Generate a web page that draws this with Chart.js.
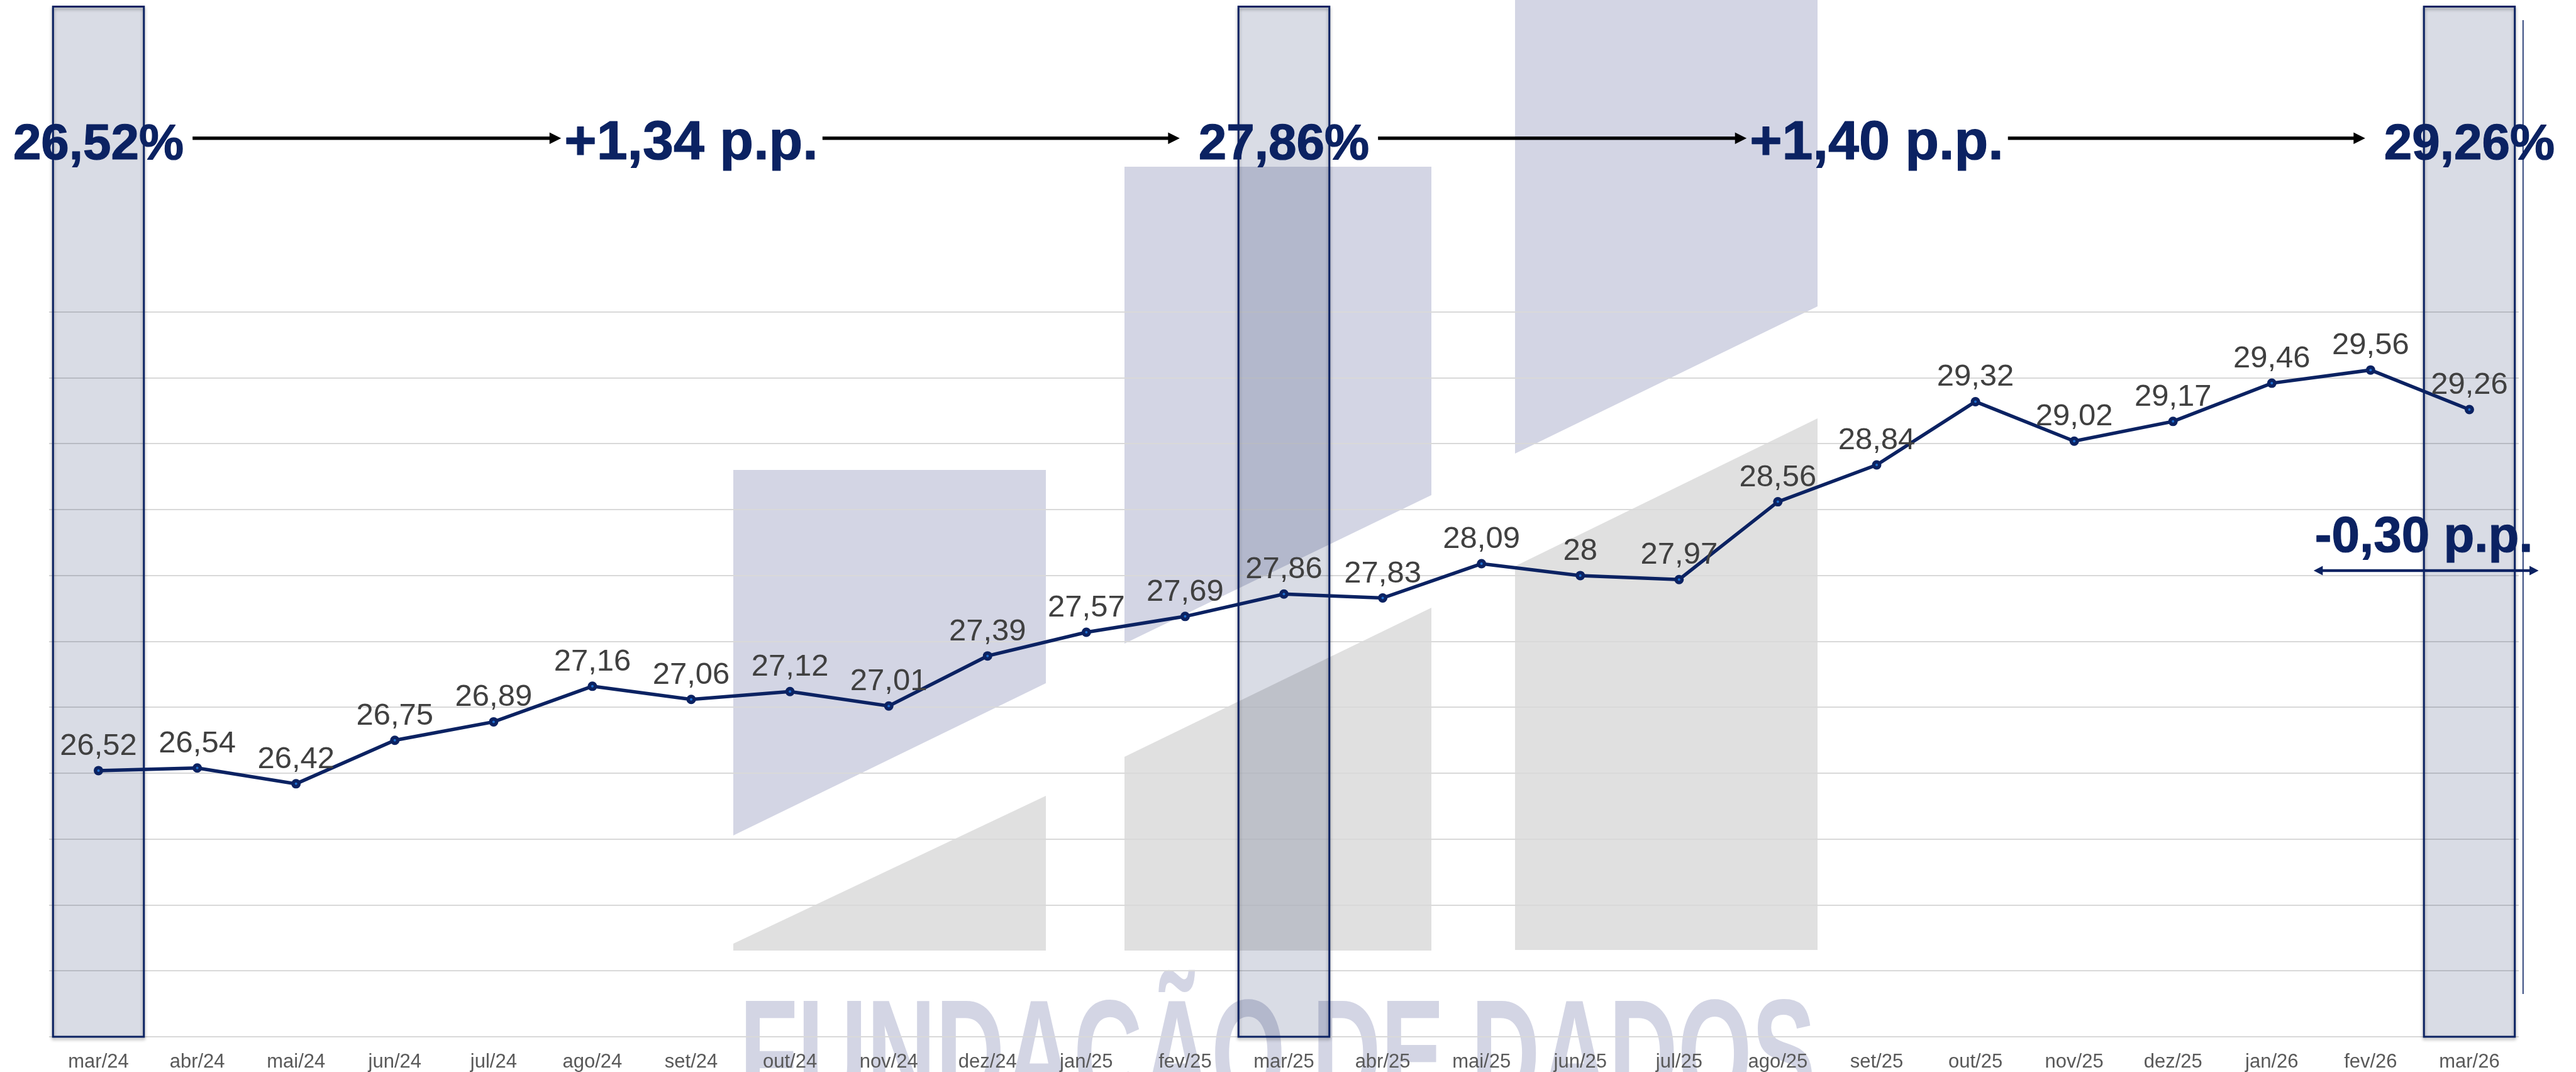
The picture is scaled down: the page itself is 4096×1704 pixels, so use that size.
<!DOCTYPE html>
<html lang="pt-BR">
<head>
<meta charset="utf-8">
<title>Evolução mensal</title>
<script src="https://cdn.jsdelivr.net/npm/chart.js@4/dist/chart.umd.min.js"></script>
<style>
html, body { margin: 0; padding: 0; background: #fff; }
#wrap { width: 4096px; height: 1704px; }
</style>
</head>
<body>
<div id="wrap"><canvas id="chart" width="4096" height="1704"></canvas></div>
<script>
const months = ['mar/24', 'abr/24', 'mai/24', 'jun/24', 'jul/24', 'ago/24', 'set/24', 'out/24', 'nov/24', 'dez/24',
    'jan/25', 'fev/25', 'mar/25', 'abr/25', 'mai/25', 'jun/25', 'jul/25', 'ago/25', 'set/25', 'out/25',
    'nov/25', 'dez/25', 'jan/26', 'fev/26', 'mar/26']
const values = [26.52, 26.54, 26.42, 26.75, 26.89, 27.16, 27.06, 27.12, 27.01, 27.39,
    27.57, 27.69, 27.86, 27.83, 28.09, 28, 27.97, 28.56, 28.84, 29.32,
    29.02, 29.17, 29.46, 29.56, 29.26]

// y axis: 24,5 to 30 in steps of 0,5 (gridlines only)
const yMin = 24.5
const yMax = 30
const yStep = 0.5

// highlighted months and the header above the chart
const boxIdx = [0, 12, 24]
const headerIdx = [0, 6, 12, 18, 24]
const headerLabels = ['26,52%', '+1,34 p.p.', '27,86%', '+1,40 p.p.', '29,26%']
const lastChangeLabel = '-0,30 p.p.'

const navy = '#0b2262'
const font = '"Liberation Sans", Arial, sans-serif'
const wmText = 'FUNDAÇÃO DE DADOS'

// background logo shapes (canvas px)
const wmLavender = [
    [[1166, 747], [1663, 747], [1663, 1086], [1166, 1328]],
    [[1788, 265], [2276, 265], [2276, 787], [1788, 1023]],
    [[2409, 0], [2890, 0], [2890, 487], [2409, 721]]
]
const wmGray = [
    [[1166, 1500], [1663, 1265], [1663, 1511], [1166, 1511]],
    [[1788, 1203], [2276, 966], [2276, 1511], [1788, 1511]],
    [[2409, 900], [2890, 665], [2890, 1510], [2409, 1510]]
]

function fmt(v) {
    return String(v).replace('.', ',')
}

function poly(ctx, pts) {
    ctx.beginPath()
    pts.forEach((p, i) => i ? ctx.lineTo(p[0], p[1]) : ctx.moveTo(p[0], p[1]))
    ctx.closePath()
    ctx.fill()
}

function arrowHead(ctx, x, y, dir, len, half) {
    ctx.beginPath()
    ctx.moveTo(x, y)
    ctx.lineTo(x - dir * len, y - half)
    ctx.lineTo(x - dir * len, y + half)
    ctx.closePath()
    ctx.fill()
}

function arrow(ctx, x1, x2, y, color, width, len, half, both) {
    ctx.save()
    ctx.fillStyle = color
    ctx.fillRect(both ? x1 + len * 0.5 : x1, y - width / 2, (x2 - x1) - (both ? len : len * 0.5), width)
    arrowHead(ctx, x2, y, 1, len, half)
    if (both) arrowHead(ctx, x1, y, -1, len, half)
    ctx.restore()
}

function boldText(ctx, txt, x, y) {
    ctx.fillText(txt, x, y)
    ctx.strokeText(txt, x, y)
}

const decor = {
    id: 'decor',
    beforeDraw(chart) {
        const ctx = chart.ctx
        ctx.save()
        ctx.fillStyle = '#fff'
        ctx.fillRect(0, 0, chart.width, chart.height)
        ctx.fillStyle = '#d3d5e4'
        wmLavender.forEach(p => poly(ctx, p))
        ctx.fillStyle = '#e0e0e0'
        wmGray.forEach(p => poly(ctx, p))

        ctx.font = `bold 245px ${font}`
        const w = ctx.measureText(wmText).width
        ctx.translate(1176, 1760)
        ctx.scale(1711 / w, 1)
        ctx.fillStyle = '#d3d5e4'
        ctx.textBaseline = 'alphabetic'
        ctx.fillText(wmText, 0, 0)
        ctx.restore()
    },
    beforeDatasetsDraw(chart) {
        const ctx = chart.ctx
        const x = chart.scales.x
        const area = chart.chartArea
        const bw = (x.getPixelForValue(1) - x.getPixelForValue(0)) * 0.92
        const top = 10.5
        boxIdx.forEach(i => {
            const left = x.getPixelForValue(i) - bw / 2
            const h = area.bottom - top
            ctx.save()
            ctx.globalCompositeOperation = 'multiply'
            ctx.fillStyle = '#d9dce5'
            ctx.fillRect(left, top, bw, h)
            ctx.restore()

            ctx.save()
            ctx.shadowColor = 'rgba(0,0,0,0.35)'
            ctx.shadowBlur = 5
            ctx.shadowOffsetY = 3
            ctx.strokeStyle = navy
            ctx.lineWidth = 3
            ctx.strokeRect(left, top, bw, h)
            ctx.restore()
        })

        ctx.save()
        ctx.fillStyle = navy
        ctx.fillRect(area.right + 6, 32, 1.6, 1548)
        ctx.restore()
    },
    afterDatasetsDraw(chart) {
        const ctx = chart.ctx
        const meta = chart.getDatasetMeta(1)
        ctx.save()
        ctx.font = `49px ${font}`
        ctx.fillStyle = '#404040'
        ctx.textAlign = 'center'
        ctx.textBaseline = 'alphabetic'
        meta.data.forEach((pt, i) => {
            ctx.fillText(fmt(values[i]), pt.x, pt.y - 25)
        })
        ctx.restore()
    },
    afterDraw(chart) {
        const ctx = chart.ctx
        const x = chart.scales.x
        const base = 253.4
        const arrowY = 219.7
        ctx.save()
        ctx.fillStyle = navy
        ctx.strokeStyle = navy
        ctx.lineWidth = 1.2
        ctx.lineJoin = 'round'
        ctx.textAlign = 'center'
        ctx.textBaseline = 'alphabetic'

        const boxes = headerLabels.map((txt, k) => {
            const isPP = txt.indexOf('p.p.') >= 0
            ctx.font = `bold ${isPP ? 88 : 80}px ${font}`
            const cx = x.getPixelForValue(headerIdx[k])
            const w = ctx.measureText(txt).width
            boldText(ctx, txt, cx, base)
            return { left: cx - w / 2, right: cx + w / 2, isPP: isPP }
        })

        for (let k = 0; k < boxes.length - 1; k++) {
            const a = boxes[k]
            const b = boxes[k + 1]
            const x1 = a.right + (a.isPP ? 7 : 14)
            const x2 = b.left - (b.isPP ? 5 : 30)
            arrow(ctx, x1, x2, arrowY, '#000', 5.4, 18.5, 9.3, false)
        }

        // last month change
        ctx.fillStyle = navy
        ctx.font = `bold 80px ${font}`
        const cx = x.getPixelForValue(23.54)
        const w = ctx.measureText(lastChangeLabel).width
        boldText(ctx, lastChangeLabel, cx, 877)
        arrow(ctx, cx - w / 2 - 2, cx + w / 2 + 9, 907, navy, 4.4, 14.5, 7.5, true)
        ctx.restore()
    }
}

new Chart(document.getElementById('chart'), {
    type: 'line',
    data: {
        labels: months,
        datasets: [
            {
                data: values,
                order: 0,
                showLine: false,
                pointRadius: 2,
                pointBackgroundColor: '#1f6fd0',
                pointBorderWidth: 0,
                pointHoverRadius: 0
            },
            {
                data: values,
                order: 1,
                borderColor: navy,
                borderWidth: 5.5,
                tension: 0,
                pointRadius: 7.5,
                pointBackgroundColor: navy,
                pointBorderColor: navy,
                pointBorderWidth: 0,
                pointHoverRadius: 0
            }
        ]
    },
    options: {
        responsive: false,
        animation: false,
        devicePixelRatio: 1,
        events: [],
        layout: { padding: { left: 78, right: 91, top: 496, bottom: 0 } },
        plugins: {
            legend: { display: false },
            tooltip: { enabled: false }
        },
        scales: {
            x: {
                offset: true,
                grid: { display: false },
                border: { display: false },
                ticks: {
                    color: '#595959',
                    font: { family: font, size: 31 },
                    padding: 14,
                    maxRotation: 0,
                    autoSkip: false
                },
                afterFit(s) { s.height = 56 }
            },
            y: {
                min: yMin,
                max: yMax,
                ticks: { display: false, stepSize: yStep },
                grid: { color: '#d9d9d9', lineWidth: 2, drawTicks: false },
                border: { display: false },
                afterFit(s) { s.width = 0 }
            }
        }
    },
    plugins: [decor]
})
</script>
</body>
</html>
